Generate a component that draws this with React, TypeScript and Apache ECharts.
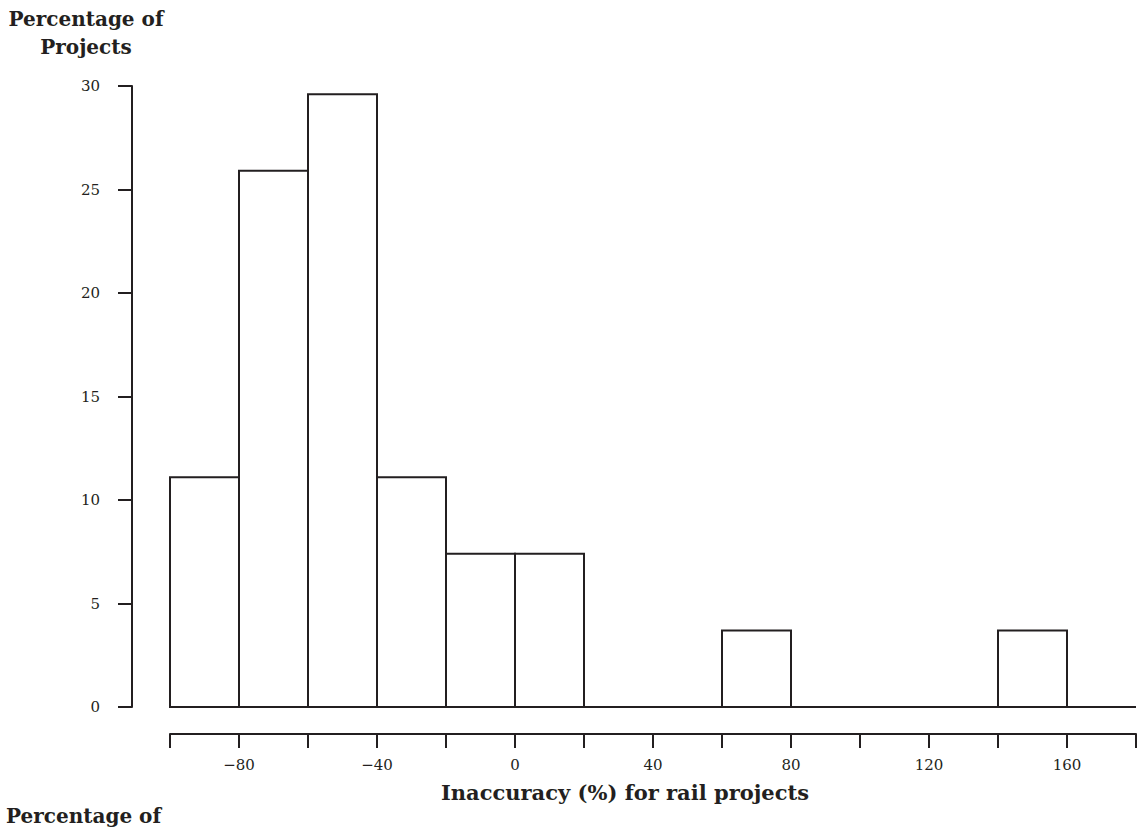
import React, { useEffect, useRef } from "react";
import * as echarts from "echarts";

const binStarts = [-100, -80, -60, -40, -20, 0, 20, 40, 60, 80, 100, 120, 140, 160];
const binWidth = 20;
const percentages = [11.1, 25.9, 29.6, 11.1, 7.4, 7.4, 0, 0, 3.7, 0, 0, 0, 3.7, 0];
const yTicks = { min: 0, max: 30, interval: 5 };
const xTicks = { min: -100, max: 180, interval: 20 };

const INK = "#231f20";
const FONT = "'DejaVu Serif', 'Liberation Serif', serif";

export default function App() {
  const ref = useRef<HTMLDivElement>(null);
  useEffect(() => {
    if (!ref.current) return;
    const chart = echarts.init(ref.current, null, { renderer: "svg" });
    const data = binStarts.map((s, i) => [s, s + binWidth, percentages[i]]);
    chart.setOption({
      animation: false,
      backgroundColor: "#ffffff",
      textStyle: { fontFamily: FONT, color: INK },
      grid: { left: 170, right: 6, top: 86, bottom: 122 },
      xAxis: {
        type: "value",
        min: xTicks.min,
        max: xTicks.max,
        interval: xTicks.interval,
        offset: 27,
        axisLine: { show: true, onZero: false, lineStyle: { color: INK, width: 2 } },
        axisTick: { show: true, length: 14, lineStyle: { color: INK, width: 2 } },
        splitLine: { show: false },
        axisLabel: {
          margin: 23,
          fontSize: 15,
          fontFamily: FONT,
          color: INK,
          showMinLabel: true,
          showMaxLabel: true,
          formatter: (v: number) => {
            if (v % 40 !== 0) return "";
            return v < 0 ? "\u2212" + Math.abs(v) : String(v);
          },
        },
        name: "Inaccuracy (%) for rail projects",
        nameLocation: "middle",
        nameGap: 48,
        nameTextStyle: {
          fontSize: 21,
          fontWeight: "bold",
          fontFamily: FONT,
          color: INK,
          padding: [0, 56, 0, 0],
        },
      },
      yAxis: {
        type: "value",
        min: yTicks.min,
        max: yTicks.max,
        interval: yTicks.interval,
        offset: 38,
        axisLine: { show: true, onZero: false, lineStyle: { color: INK, width: 2 } },
        axisTick: { show: true, length: 14, lineStyle: { color: INK, width: 2 } },
        splitLine: { show: false },
        axisLabel: { margin: 32, fontSize: 15, fontFamily: FONT, color: INK },
      },
      graphic: [
        {
          type: "text",
          x: 86,
          y: 5,
          style: {
            text: "Percentage of\nProjects",
            align: "center",
            fontSize: 20,
            fontWeight: "bold",
            fontFamily: FONT,
            fill: INK,
            lineHeight: 28,
          },
        },
        {
          type: "text",
          x: 6,
          y: 806,
          style: {
            text: "Percentage of",
            fontSize: 20,
            fontWeight: "bold",
            fontFamily: FONT,
            fill: INK,
          },
        },
      ],
      series: [
        {
          type: "custom",
          data,
          encode: { x: [0, 1], y: 2 },
          renderItem: (params: any, api: any) => {
            const x0 = api.value(0);
            const x1 = api.value(1);
            const v = api.value(2);
            const p0 = api.coord([x0, v]);
            const p1 = api.coord([x1, 0]);
            return {
              type: "rect",
              shape: { x: p0[0], y: p0[1], width: p1[0] - p0[0], height: p1[1] - p0[1] },
              style: { fill: "#ffffff", stroke: INK, lineWidth: 2 },
            };
          },
        },
      ],
    });
    return () => chart.dispose();
  }, []);
  return (
    <div
      ref={ref}
      style={{ position: "absolute", left: 0, top: 0, width: 1142, height: 829 }}
    />
  );
}
